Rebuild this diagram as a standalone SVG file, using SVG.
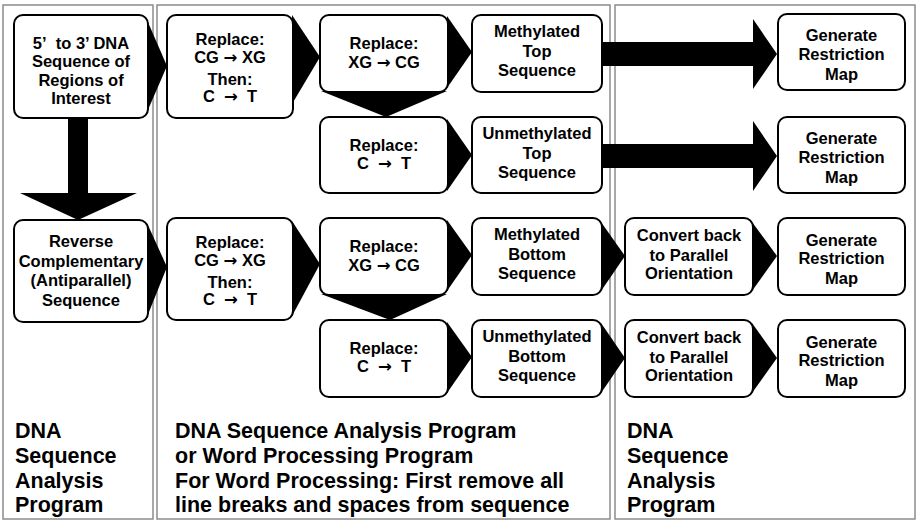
<svg xmlns="http://www.w3.org/2000/svg" width="918" height="524" viewBox="0 0 918 524">
<style>
.panel{fill:none;stroke:#8c8c8c;stroke-width:1.5}
.box{fill:#fff;stroke:#000;stroke-width:2}
.t{font-family:"Liberation Sans",Arial,sans-serif;font-weight:bold;font-size:16.5px;text-anchor:middle;fill:#000}
.ar{font-family:"DejaVu Sans",sans-serif;font-weight:bold}
.big{font-family:"Liberation Sans",Arial,sans-serif;font-weight:bold;font-size:21.5px;fill:#000}
.arr{fill:#000}
</style>
<rect width="918" height="524" fill="#fff"/>
<g id="panels">
<rect class="panel" x="3" y="5" width="150" height="514"/>
<rect class="panel" x="157" y="5" width="453" height="514"/>
<rect class="panel" x="615" y="5" width="300" height="514"/>
</g>
<g id="n1"><rect class="box" x="14" y="15" width="134" height="103" rx="9"/>
<text class="t" x="81" y="48.5">5’&#160; to 3’ DNA</text><text class="t" x="81" y="67">Sequence of</text><text class="t" x="81" y="85.5">Regions of</text><text class="t" x="81" y="104">Interest</text></g>
<g id="n2"><rect class="box" x="14" y="220" width="134" height="102" rx="9"/>
<text class="t" x="81" y="247">Reverse</text><text class="t" x="81" y="266.5">Complementary</text><text class="t" x="81" y="286">(Antiparallel)</text><text class="t" x="81" y="305.5">Sequence</text></g>
<g id="n3"><rect class="box" x="167" y="15" width="126" height="103" rx="9"/>
<text class="t" x="230" y="45">Replace:</text><text class="t" x="230" y="63">CG <tspan class="ar">→</tspan> XG</text><text class="t" x="230" y="85">Then:</text><text class="t" x="230" y="102">C&#160; <tspan class="ar">→</tspan> &#160;T</text></g>
<g id="n4"><rect class="box" x="167" y="218" width="126" height="102" rx="9"/>
<text class="t" x="230" y="248">Replace:</text><text class="t" x="230" y="266">CG <tspan class="ar">→</tspan> XG</text><text class="t" x="230" y="288">Then:</text><text class="t" x="230" y="305">C&#160; <tspan class="ar">→</tspan> &#160;T</text></g>
<g id="n5"><rect class="box" x="320" y="15" width="128" height="77" rx="9"/>
<text class="t" x="384" y="48.5">Replace:</text><text class="t" x="384" y="68">XG <tspan class="ar">→</tspan> CG</text></g>
<g id="n6"><rect class="box" x="320" y="117" width="128" height="76" rx="9"/>
<text class="t" x="384" y="150.5">Replace:</text><text class="t" x="384" y="168.5">C&#160; <tspan class="ar">→</tspan> &#160;T</text></g>
<g id="n7"><rect class="box" x="320" y="218" width="128" height="77" rx="9"/>
<text class="t" x="384" y="251.5">Replace:</text><text class="t" x="384" y="271">XG <tspan class="ar">→</tspan> CG</text></g>
<g id="n8"><rect class="box" x="320" y="320" width="128" height="77" rx="9"/>
<text class="t" x="384" y="353.5">Replace:</text><text class="t" x="384" y="371.5">C&#160; <tspan class="ar">→</tspan> &#160;T</text></g>
<g id="n9"><rect class="box" x="472" y="15" width="130" height="77" rx="9"/>
<text class="t" x="537" y="37">Methylated</text><text class="t" x="537" y="57">Top</text><text class="t" x="537" y="76">Sequence</text></g>
<g id="n10"><rect class="box" x="472" y="117" width="130" height="76" rx="9"/>
<text class="t" x="537" y="139">Unmethylated</text><text class="t" x="537" y="159">Top</text><text class="t" x="537" y="178">Sequence</text></g>
<g id="n11"><rect class="box" x="472" y="218" width="130" height="77" rx="9"/>
<text class="t" x="537" y="240">Methylated</text><text class="t" x="537" y="260">Bottom</text><text class="t" x="537" y="279">Sequence</text></g>
<g id="n12"><rect class="box" x="472" y="320" width="130" height="77" rx="9"/>
<text class="t" x="537" y="342">Unmethylated</text><text class="t" x="537" y="362">Bottom</text><text class="t" x="537" y="381">Sequence</text></g>
<g id="n13"><rect class="box" x="625" y="218" width="128" height="77" rx="9"/>
<text class="t" x="689" y="240.5">Convert back</text><text class="t" x="689" y="260.5">to Parallel</text><text class="t" x="689" y="279">Orientation</text></g>
<g id="n14"><rect class="box" x="625" y="320" width="128" height="77" rx="9"/>
<text class="t" x="689" y="342.5">Convert back</text><text class="t" x="689" y="362.5">to Parallel</text><text class="t" x="689" y="381">Orientation</text></g>
<g id="n15"><rect class="box" x="778" y="14" width="127" height="76" rx="9"/>
<text class="t" x="841.5" y="40.5">Generate</text><text class="t" x="841.5" y="59.5">Restriction</text><text class="t" x="841.5" y="79.5">Map</text></g>
<g id="n16"><rect class="box" x="778" y="117" width="127" height="76" rx="9"/>
<text class="t" x="841.5" y="143.5">Generate</text><text class="t" x="841.5" y="162.5">Restriction</text><text class="t" x="841.5" y="182.5">Map</text></g>
<g id="n17"><rect class="box" x="778" y="218" width="127" height="77" rx="9"/>
<text class="t" x="841.5" y="245.5">Generate</text><text class="t" x="841.5" y="263.5">Restriction</text><text class="t" x="841.5" y="283.5">Map</text></g>
<g id="n18"><rect class="box" x="778" y="320" width="127" height="77" rx="9"/>
<text class="t" x="841.5" y="347.5">Generate</text><text class="t" x="841.5" y="365.5">Restriction</text><text class="t" x="841.5" y="385.5">Map</text></g>
<g id="connectors" class="arr">
<polygon points="147,20 167,66 147,112"/>
<polygon points="292,15 320,57 292,104"/>
<polygon points="447,16 472,52 447,88"/>
<polygon points="321,91 447,91 386,117"/>
<polygon points="447,119 472,155 447,191"/>
<polygon points="602,42 753,42 753,19 777,54 753,89 753,66 602,66"/>
<polygon points="602,144 753,144 753,121 777,156 753,191 753,168 602,168"/>
<polygon points="68,118 88,118 88,193 137,193 78,220 20,193 68,193"/>
<polygon points="147,223 167,267 147,317"/>
<polygon points="292,221 320,264 292,316"/>
<polygon points="447,220 472,255 447,291"/>
<polygon points="321,294 447,294 390,320"/>
<polygon points="447,322 472,357 447,393"/>
<polygon points="601,222 625,256 601,291"/>
<polygon points="601,323 625,358 601,393"/>
<polygon points="752,222 777,256 752,291"/>
<polygon points="752,323 777,358 752,393"/>
</g>
<g id="labels">
<text class="big" x="15" y="438">DNA</text><text class="big" x="15" y="463">Sequence</text><text class="big" x="15" y="488">Analysis</text><text class="big" x="15" y="512">Program</text>
<text class="big" x="175" y="438">DNA Sequence Analysis Program</text><text class="big" x="175" y="463">or Word Processing Program</text><text class="big" x="175" y="488">For Word Processing: First remove all</text><text class="big" x="175" y="512">line breaks and spaces from sequence</text>
<text class="big" x="627" y="438">DNA</text><text class="big" x="627" y="463">Sequence</text><text class="big" x="627" y="488">Analysis</text><text class="big" x="627" y="512">Program</text>
</g>
</svg>
